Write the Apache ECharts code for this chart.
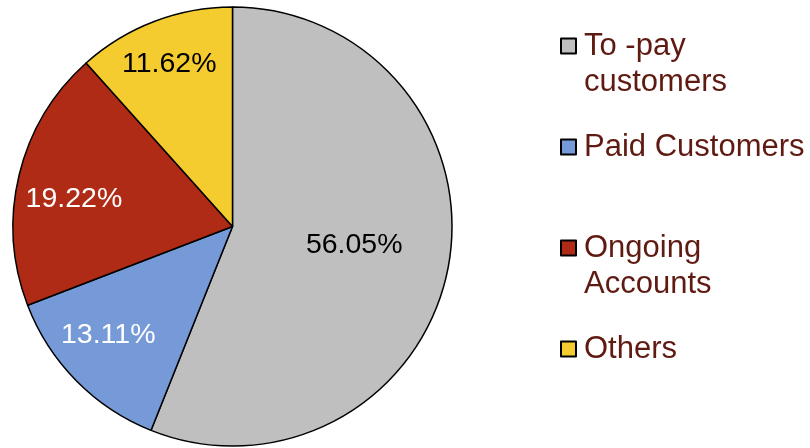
<!DOCTYPE html>
<html>
<head>
<meta charset="utf-8">
<script src="https://cdn.jsdelivr.net/npm/echarts@6/dist/echarts.min.js"></script>
<style>
html, body { margin: 0; padding: 0; background: #fff; }
#chart { width: 810px; height: 448px; }
</style>
</head>
<body>
<div id="chart"></div>
<script>
// slices, clockwise from 12 o'clock
var names = ['To -pay\ncustomers', 'Paid Customers', 'Ongoing\nAccounts', 'Others'];
var values = [56.05, 13.11, 19.22, 11.62];

var colors = ['#bfbfbf', '#7699d7', '#af2b16', '#f4cc2f'];
var labelColors = ['#000000', '#ffffff', '#ffffff', '#000000'];
// nudge of each label away from the default inside spot
var labelShift = [[11, -3], [-44, 29], [-49, -1], [-23, -57]];

function initPie() {
	var myChart = echarts.init(document.getElementById('chart'));
	var data = [];
	for (var i = 0; i < names.length; i++) {
		data.push({
			name: names[i],
			value: values[i],
			itemStyle: {color: colors[i]},
			label: {color: labelColors[i], offset: labelShift[i]}
		});
	}
	var option = {
		animation: false,
		legend: {
			orient: 'vertical',
			left: 560,
			top: -8,
			padding: 0,
			itemGap: 29,
			itemWidth: 15,
			itemHeight: 15,
			selectedMode: false,
			icon: 'rect',
			data: names,
			// blank first line so the icon sits beside the first real line
			formatter: function(name) {
				return name.indexOf('\n') >= 0 ? '\n' + name : name;
			},
			textStyle: {
				color: '#5f1a12',
				fontFamily: 'Liberation Sans, Arial, sans-serif',
				fontSize: 31,
				lineHeight: 36,
				padding: [0, 0, 0, 3]
			}
		},
		series: [{
			type: 'pie',
			center: [232.5, 226.5],
			radius: [0, 219.5],
			startAngle: 90,
			clockwise: true,
			avoidLabelOverlap: false,
			emphasis: {disabled: true},
			itemStyle: {borderColor: '#000', borderWidth: 1.5},
			label: {
				show: true,
				position: 'inside',
				formatter: function(p) { return p.value.toFixed(2) + '%'; },
				fontFamily: 'Liberation Sans, Arial, sans-serif',
				fontSize: 28.5,
				textBorderWidth: 0
			},
			labelLine: {show: false},
			data: data
		}]
	};
	myChart.setOption(option);
}

initPie();
</script>
</body>
</html>
